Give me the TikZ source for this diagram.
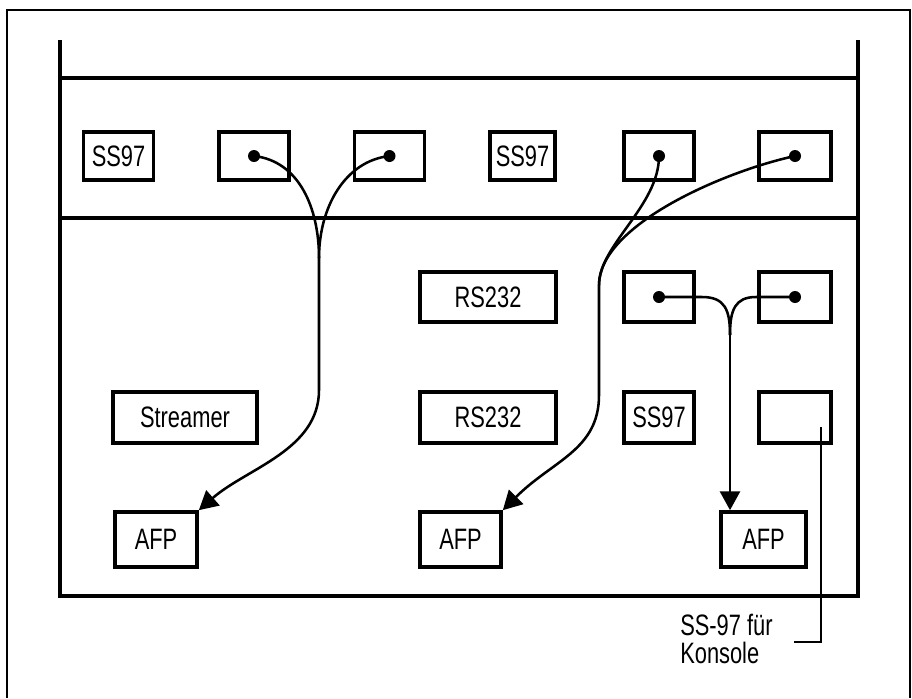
\documentclass[tikz,border=0pt]{standalone}
\usepackage{fontspec}
\setmainfont{Liberation Sans}[FakeStretch=0.74]
\usetikzlibrary{arrows.meta}
\begin{document}
\begin{tikzpicture}[x=0.025cm,y=-0.025cm,
  slot/.style={rectangle,draw,line width=2.6pt,inner sep=0pt,minimum width=1.75cm,font=\fontsize{21pt}{24pt}\selectfont},
  rack/.style={line width=2.6pt},
  wire/.style={line width=1.8pt},
  pfeil/.style={wire,-{Triangle[length=0.47cm,width=0.5cm]}},
  leader/.style={line width=0.9pt}]
\useasboundingbox (0,0) rectangle (912,698);
% Rahmen
\draw[line width=1pt] (7,698) -- (7,10) -- (910,10) -- (910,698);
% Gestell
\draw[rack] (60,40) -- (60,596) -- (858,596) -- (858,40);
\draw[rack] (60,78) -- (858,78);
\draw[rack] (60,218) -- (858,218);
% obere Reihe
\node (ssa) at (118.5,156) [slot,minimum height=1.2cm] {SS97};
\node (pa) at (254,156) [slot,minimum height=1.2cm] {};
\node (pb) at (389.5,156) [slot,minimum height=1.2cm] {};
\node (ssb) at (522.5,156) [slot,minimum height=1.2cm,minimum width=1.625cm] {SS97};
\node (pc) at (659,156) [slot,minimum height=1.2cm] {};
\node (pd) at (795,156) [slot,minimum height=1.2cm,minimum width=1.8cm] {};
% mittlere Reihe
\node (rsa) at (488,297) [slot,minimum height=1.25cm,minimum width=3.4cm] {RS232};
\node (pe) at (659,297) [slot,minimum height=1.25cm] {};
\node (pf) at (795,297) [slot,minimum height=1.25cm,minimum width=1.8cm] {};
% untere Reihe
\node (str) at (185,417.5) [slot,minimum height=1.27cm,minimum width=3.6cm] {Streamer};
\node (rsb) at (488,417.5) [slot,minimum height=1.27cm,minimum width=3.4cm] {RS232};
\node (ssc) at (659,417.5) [slot,minimum height=1.27cm] {SS97};
\node (kon) at (795,417.5) [slot,minimum height=1.27cm,minimum width=1.8cm] {};
% AFP
\node (afpa) at (156,539.5) [slot,minimum height=1.375cm,minimum width=2.05cm] {AFP};
\node (afpb) at (460.5,539.5) [slot,minimum height=1.375cm,minimum width=2.025cm] {AFP};
\node (afpc) at (763.5,539.5) [slot,minimum height=1.375cm,minimum width=2.125cm] {AFP};
% Kabel
\foreach \p in {pa,pb,pc,pd,pe,pf} \fill (\p.center) circle (0.15cm);
\coordinate (ja) at (319,258);
\coordinate (jb) at (599,285);
\coordinate (jc) at (730,335);
\draw[wire] (pa.center) .. controls +(45,5) and +(0,-50) .. (ja);
\draw[wire] (pb.center) .. controls +(-45,5) and +(0,-50) .. (ja);
\draw[pfeil] (ja) -- (319,390) .. controls +(0,60) and +(48,-42) .. (afpa.north east);
\draw[wire] (pc.center) .. controls +(0,50) and +(0,-40) .. (jb);
\draw[wire] (pd.center) .. controls +(-70,15) and +(0,-60) .. (jb);
\draw[pfeil] (jb) -- (599,395) .. controls +(0,55) and +(50,-50) .. (afpb.north east);
\draw[wire] (pe.center) -- (702,297) .. controls (725,297) and (730,310) .. (jc);
\draw[wire] (pf.center) -- (756,297) .. controls (735,297) and (730,310) .. (jc);
\draw[pfeil] (jc) -- (jc |- afpc.north);
% Konsole
\coordinate (kp) at (821,427);
\coordinate (nt) at (794,642);
\draw[leader] (kp) |- (nt);
\node (note) at (680,614) [anchor=north west,inner sep=0pt,align=left,font=\fontsize{21pt}{19.5pt}\selectfont] {SS-97 f\"ur\\Konsole};
\end{tikzpicture}
\end{document}
